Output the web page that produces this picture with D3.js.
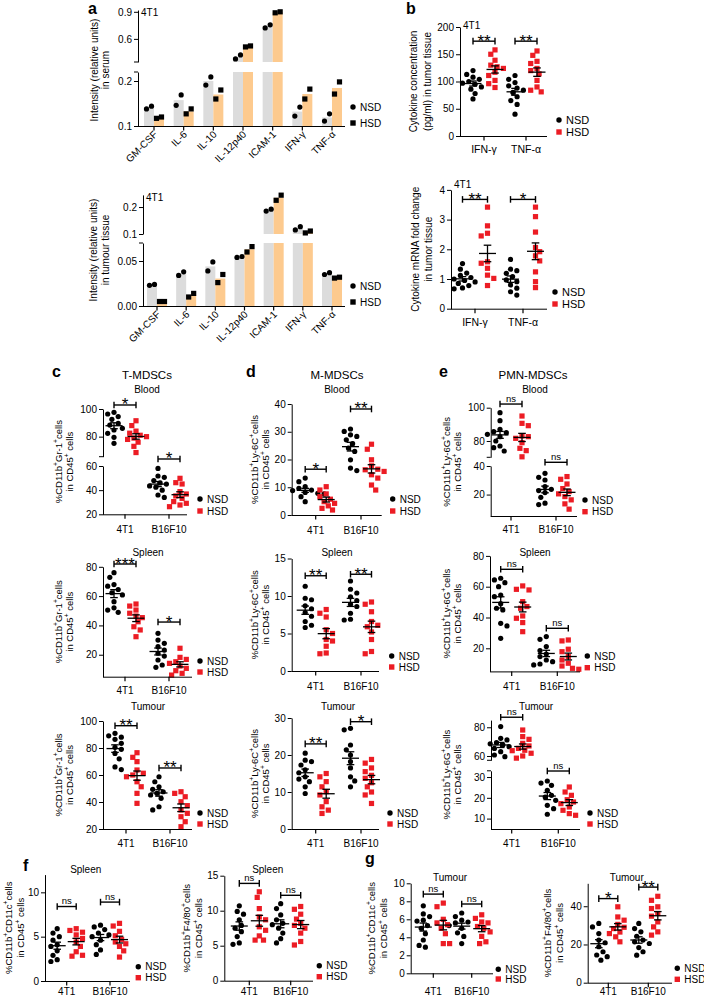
<!DOCTYPE html>
<html><head><meta charset="utf-8">
<script src="https://cdn.jsdelivr.net/npm/d3@7"></script>
<style>body{margin:0;background:#fff}svg{display:block}</style>
</head><body>
<script>
// ---------------- DATA ----------------
const cytokines = ['GM-CSF','IL-6','IL-10','IL-12p40','ICAM-1','IFN-γ','TNF-α'];
const serumNSD  = [[0.138,0.144],[0.146,0.169],[0.191,0.209],[0.378,0.422],[0.722,0.756],[0.122,0.142],[0.111,0.127]];
const serumHSD  = [[0.117,0.120],[0.127,0.138],[0.160,0.180],[0.511,0.522],[0.889,0.900],[0.160,0.182],[0.171,0.198]];
const tissueNSD = [[0.023,0.024],[0.034,0.038],[0.039,0.049],[0.054,0.055],[0.185,0.192],[0.115,0.127],[0.035,0.037]];
const tissueHSD = [[0.005,0.005],[0.010,0.014],[0.026,0.035],[0.060,0.066],[0.225,0.244],[0.104,0.111],[0.031,0.032]];

const bCats = ['IFN-γ','TNF-α'];
const bConcNSD = [[120,113,108,104,100,97,95,90,86,78,68],[111,104,98,92,88,84,80,72,65,58,40]];
const bConcHSD = [[158,150,139,130,127,124,117,111,102,96,89],[156,148,137,133,124,120,114,102,90,84,81]];
const bConcSig = ['**','**'];
const bMrnaNSD = [[1.52,1.33,1.2,1.12,1.05,1.0,0.95,0.9,0.85,0.78,0.7,0.67],[1.66,1.33,1.28,1.19,1.08,0.97,0.91,0.8,0.69,0.57,0.46]];
const bMrnaHSD = [[3.42,2.79,2.54,2.45,1.58,1.53,1.36,1.13,1.02,0.78],[3.42,3.1,2.58,2.06,1.92,1.78,1.61,1.24,0.91,0.71]];
const bMrnaSig = ['**','*'];

const tumours = ['4T1','B16F10'];
const cBloodNSD  = [[97.6,96.4,94.5,92.5,89.6,88.4,86,84.8,82.4,79.5,75.2],[58,51.7,50.6,47.9,46,45,43.5,42.5,40,36,34]];
const cBloodHSD  = [[91.5,88,84,82.5,81,80,79,78,76,73,68.5],[49.8,46.2,45.1,38.8,36.8,35.2,33.2,30.5,29.1,27.7,26.3]];
const cBloodSig  = ['*','*'];
const cSpleenNSD = [[76,72.8,67.9,66.8,64.5,62.3,60.8,56.2,52,50.5,48.9],[34.6,30,27.8,25.5,23.2,21,19.1,16.4,13,11.4]];
const cSpleenHSD = [[54.6,53.2,50.5,48.3,46.4,45.3,42.5,39.1,36.9,32.3],[24.4,18.2,16.8,15.2,14.1,12.3,10.7,9.1,7.3,6.1]];
const cSpleenSig = ['***','*'];
const cTumourNSD = [[90.9,89,88,86.4,83.5,80.5,79,76,72,66,64],[58.7,55,51.3,49.4,47.6,46.4,45.2,42.7,36.5,34.1]];
const cTumourHSD = [[76.5,73.1,69.9,63.7,61.3,60,58.7,55,51.3,46.4,39],[47.6,46.4,43.9,40.2,37.3,34.1,31.6,29.1,25.4,21.7]];
const cTumourSig = ['**','**'];

const dBloodNSD  = [[13.3,12,10.2,9.6,9,8.8,8.1,7.8,7.6,6.6,4.8],[31,30.1,28.9,28.3,27.1,25.7,24.1,22.9,19.9,16.9,16]];
const dBloodHSD  = [[10.2,9,7.6,6.6,5.7,4.8,4.2,3.3,2.4,1.8],[25.5,23.7,19.9,17.7,16.5,16.3,15.7,14.5,13.3,10.8,9]];
const dBloodSig  = ['*','**'];
const dSpleenNSD = [[11.3,9.7,9.5,8.7,8.3,7.8,7.3,6.6,6.1,5.8],[12,10.9,10.4,9.9,9.4,8.9,8.6,7.7,6.9,6.8]];
const dSpleenHSD = [[8.2,7.7,7.2,5.5,5,4.2,4,3.3,2.4,2.3],[9.2,8.9,7.9,6.6,6.1,5.9,5.2,4.2,2.6,2.3]];
const dSpleenSig = ['**','**'];
const dTumourNSD = [[20.5,18.6,18.2,17.3,16,15.2,14.1,13.5,12.8,11.4,9.6],[27.2,26.8,22.7,21.4,20,18.2,16.5,14.1,13,11.4]];
const dTumourHSD = [[15,14.1,12.8,11.4,10.1,9.2,7.4,6,5.1,4.2],[18.8,17.8,16.5,15.5,14.5,13.7,12.5,11.4,10,9.2,6.9]];
const dTumourSig = ['**','*'];

const eBloodNSD  = [[97,92.2,87,85.6,85,84,82.6,80,77,76,74],[34.9,32.1,30.2,25.6,23.7,22.8,21.4,18.1,14,13]];
const eBloodHSD  = [[95,90.6,89.2,83,82.6,81.6,79,75.6,74.2,70.5],[32.6,30.7,27.4,24.2,22.1,20.5,18.6,16.3,13.5,9.8]];
const eBloodSig  = ['ns','ns'];
const eSpleenNSD = [[65.5,64.4,62.6,60,54.6,53.5,49,46,44.9,36.2,34.5,26.5],[27.6,25.8,21.1,18.5,16.3,14.6,12.4,11.3,9.8,9.2]];
const eSpleenHSD = [[60.5,58.3,57.9,50.3,47.1,46,41,39.5,36.7,30.8],[25.4,24.8,19.4,17.8,14.6,12.4,10.3,8.5,7,6.4]];
const eSpleenSig = ['ns','ns'];
const eTumourNSD = [[80.5,72.3,71.2,69.3,68.5,67.7,66.5,65.3,63,60.7,59.5],[28.1,27.1,26,23.6,21.2,20.4,18.8,16.4,14.8,12.1]];
const eTumourHSD = [[78.1,73.5,71.6,68.8,67,65.3,64,63.7,61.9,60,58.5],[25.2,22.8,21.2,19.1,18,17.2,15.6,14,12.4,11.6]];
const eTumourSig = ['ns','ns'];

const fDcNSD  = [[5.9,5.4,5,4.6,4.1,3.9,3.4,2.9,2.4,2.2],[6.3,6.1,5.8,5.4,5.2,5,4.6,4.1,3.5,3]];
const fDcHSD  = [[5.9,5.7,5.5,5.2,4.8,4.4,3.9,3.3,2.9,2.8],[6.5,6.2,5.6,5.1,4.7,4.4,4.2,3.9,3.4,2.7]];
const fDcSig  = ['ns','ns'];
const fMacNSD = [[10.7,9.9,9.5,8.7,7.9,7.5,7,6.3,5.4,5.2],[11,10.3,9.4,8.7,8.2,8,7.5,6.8,6,5.4]];
const fMacHSD = [[12.7,11.9,10.3,9.1,8.7,7.7,7.2,6.4,5.8,5.8],[10.6,10.2,9.5,8.8,8.2,7.9,7.5,6.8,5.6,5.1]];
const fMacSig = ['ns','ns'];
const gDcNSD  = [[7.5,6.6,6.3,5.9,5.8,5.3,5,4.4,3.7,3.1,2.9],[6.7,6.3,5.9,5.7,5.6,5.3,5,4.5,4.1,3.3]];
const gDcHSD  = [[7.8,7.4,6,5.6,5.4,5,4.4,3.3,3.3],[6.5,6.1,5.7,5.6,5.2,5,4.6,4.1,3.5,3.3]];
const gDcSig  = ['ns','ns'];
const gMacNSD = [[31,29.2,25.7,22.3,20.9,18.8,16.2,14.5,13.6,11.8],[31,28.3,26.6,24.3,22.3,21.4,20.5,18.4,16.2,14.4]];
const gMacHSD = [[39.7,34.4,32.7,30.5,29,28.3,26.5,25.7,24,21.4],[45.2,43.1,39.7,38.8,36.2,34.8,31.8,29.2,26.6,24.9]];
const gMacSig = ['*','**'];

const labGr   = [['%CD11b','+','Gr-1','+','cells'],['in CD45','+',' cells']];
const labLy6C = [['%CD11b','+','Ly-6C','+','cells'],['in CD45','+',' cells']];
const labLy6G = [['%CD11b','+','Ly-6G','+','cells'],['in CD45','+',' cells']];
const labDC   = [['%CD11b','+','CD11c','+','cells'],['in CD45','+',' cells']];
const labMac  = [['%CD11b','+','F4/80','+','cells'],['in CD45','+',' cells']];

// ---------------- DRAWING ----------------
const F = "'Liberation Sans', Arial, Helvetica, sans-serif";
const RED = '#ec1c24';
const svg = d3.select('body').append('svg').attr('width',704).attr('height',1000);
svg.append('rect').attr('width',704).attr('height',1000).attr('fill','#fff');

function txt(g, x, y, s, o={}) {
  return g.append('text').attr('x',x).attr('y',y).text(s)
    .attr('font-family',F).attr('font-size',o.size||10)
    .attr('text-anchor',o.anchor||'start').attr('font-weight',o.weight||'normal').attr('fill','#000');
}
function rich(g, parts, x, y, size) {
  const t = g.append('text').attr('font-family',F).attr('font-size',size).attr('text-anchor','middle')
    .attr('fill','#000').attr('transform',`translate(${x},${y}) rotate(-90)`);
  parts.forEach((p,i)=>{
    const ts = t.append('tspan').text(p);
    if (i%2===1) ts.attr('font-size',size*0.7).attr('dy',-size*0.38);
    else if (i>0) ts.attr('dy',size*0.38);
  });
}
function mkSegs(segs){ return segs.map(s=>({...s, sc:d3.scaleLinear().domain(s.dom).range(s.rng)})); }
function segY(segs, v){
  let s = segs.find(s=>v>=s.dom[0]-1e-9 && v<=s.dom[1]+1e-9);
  if(!s) s = segs.reduce((a,b)=>Math.min(Math.abs(v-a.dom[0]),Math.abs(v-a.dom[1]))<=Math.min(Math.abs(v-b.dom[0]),Math.abs(v-b.dom[1]))?a:b);
  return s.sc(v);
}
function yAxis(g, x, segs) {
  segs.forEach((s,i)=>{
    const ax = d3.axisLeft(s.sc).tickValues(s.ticks).tickSize(4).tickSizeOuter(0).tickPadding(2)
      .tickFormat(s.fmt ? d3.format(s.fmt) : (d=>String(d)));
    const a = g.append('g').attr('transform',`translate(${x},0)`).call(ax);
    a.attr('font-family',F).attr('font-size',10);
    a.selectAll('text').attr('fill','#000');
    a.selectAll('line,path').attr('stroke','#000').attr('stroke-width',1);
    if (segs.length>1) {
      if (i<segs.length-1 && !s.ticks.includes(s.dom[1]))
        g.append('line').attr('x1',x-4).attr('x2',x).attr('y1',s.rng[1]).attr('y2',s.rng[1]).attr('stroke','#000');
      if (i>0 && !s.ticks.includes(s.dom[0]))
        g.append('line').attr('x1',x-4).attr('x2',x).attr('y1',s.rng[0]).attr('y2',s.rng[0]).attr('stroke','#000');
    }
  });
}
function xAxisLine(g, x0, x1, y, ticks) {
  g.append('line').attr('x1',x0).attr('x2',x1).attr('y1',y+0.5).attr('y2',y+0.5).attr('stroke','#000');
  ticks.forEach(t=>g.append('line').attr('x1',t).attr('x2',t).attr('y1',y).attr('y2',y+4.5).attr('stroke','#000').attr('stroke-width',1.2));
}
function marker(g, shape, x, y, col, r) {
  if (shape==='c') g.append('circle').attr('cx',x).attr('cy',y).attr('r',r).attr('fill',col);
  else g.append('rect').attr('x',x-r).attr('y',y-r).attr('width',2*r).attr('height',2*r).attr('fill',col);
}
function legend(g, x, y1, y2, hsdCol, size) {
  marker(g,'c',x,y1,'#000',2.7); txt(g,x+7,y1+3.6,'NSD',{size});
  marker(g,'s',x,y2,hsdCol,2.7); txt(g,x+7,y2+3.6,'HSD',{size});
}
function swarm(vals, yf, r) {
  const pts = vals.map(v=>({v, y:yf(v)})).sort((a,b)=>a.y-b.y);
  const placed=[]; const minD = 2*r*1.12; const step=2.1;
  pts.forEach((p,j)=>{
    let best=0;
    for (let k=0;k<24;k++){
      const sgn = (j%2===0) ? 1 : -1;
      const dx = k===0?0:((k%2)?sgn:-sgn)*Math.ceil(k/2)*step;
      if (placed.every(q=>(q.dx-dx)**2+(q.y-p.y)**2>=minD*minD)){best=dx;break;}
    }
    p.dx=best; placed.push(p);
  });
  return pts;
}

// ---- bar panel (a) ----
function barPanel(c) {
  const g = svg.append('g');
  const segs = mkSegs(c.segs);
  const xs = d3.scalePoint().domain(cytokines).range(c.tickRange);
  cytokines.forEach((cat,i)=>{
    const cx = xs(cat);
    [[c.nsd[i],'#dcdcdc',-10],[c.hsd[i],'#fdca8e',0]].forEach(([vals,col,dx])=>{
      const m = d3.mean(vals);
      segs.forEach(s=>{
        const lo=s.dom[0], hi=Math.min(m,s.dom[1]);
        if (hi>lo) g.append('rect').attr('x',cx+dx).attr('width',10).attr('y',s.sc(hi)).attr('height',s.sc(lo)-s.sc(hi)).attr('fill',col);
      });
    });
    c.nsd[i].forEach((v,k)=>marker(g,'c',cx-7.5+k*5,segY(segs,v),'#000',2.6));
    c.hsd[i].forEach((v,k)=>marker(g,'s',cx+2.5+k*5,segY(segs,v),'#000',2.6));
  });
  yAxis(g, c.axisX, segs);
  const yb = segs[0].rng[0];
  xAxisLine(g, c.axisX, c.x1, yb, cytokines.map(d=>xs(d)));
  cytokines.forEach(cat=>{
    g.append('text').text(cat).attr('font-family',F).attr('font-size',10).attr('text-anchor','end')
      .attr('transform',`translate(${xs(cat)+4},${yb+9}) rotate(-45)`);
  });
  legend(g, c.legend[0], c.legend[1], c.legend[2], '#000', 10);
  rich(g,[c.ylab[0]],c.ylabX[0],c.ylabY,10);
  rich(g,[c.ylab[1]],c.ylabX[1],c.ylabY,10);
  txt(g, c.axisX+3, c.t4[1], '4T1', {size:10});
}

// ---- scatter panel ----
function scatter(c) {
  const g = svg.append('g');
  const segs = mkSegs(c.segs);
  const yf = v=>segY(segs,v);
  const xs = d3.scalePoint().domain(c.cats).range(c.tickRange);
  const yb = segs[0].rng[0];
  const r = 2.6;
  [[c.nsd,'c','#000',-c.off],[c.hsd,'s',RED,c.off]].forEach(([arr,shape,col,dx])=>{
    arr.forEach((vals,ci)=>{
      const cx = xs(c.cats[ci])+dx;
      swarm(vals,yf,r).forEach(p=>marker(g,shape,cx+p.dx,p.y,col,r));
    });
  });
  [[c.nsd,-c.off],[c.hsd,c.off]].forEach(([arr,dx])=>{
    arr.forEach((vals,ci)=>{
      const cx = xs(c.cats[ci])+dx;
      const m = d3.mean(vals), se = d3.deviation(vals)/Math.sqrt(vals.length);
      const ym=yf(m), y1=yf(m+se), y0=yf(m-se);
      const ln=(a,b,c2,d)=>g.append('line').attr('x1',a).attr('y1',b).attr('x2',c2).attr('y2',d).attr('stroke','#000').attr('stroke-width',1.3);
      ln(cx-8.5,ym,cx+8.5,ym); ln(cx,y0,cx,y1); ln(cx-3.8,y0,cx+3.8,y0); ln(cx-3.8,y1,cx+3.8,y1);
    });
  });
  yAxis(g, c.axisX, segs);
  xAxisLine(g, c.axisX, c.x1, yb, c.cats.map(d=>xs(d)));
  c.cats.forEach(cat=>txt(g, xs(cat), c.xlabY, cat, {size:c.xsize||10, anchor:'middle'}));
  c.sig.forEach((s,ci)=>{
    const [si,lev] = c.br[ci];
    const by = segs[si].sc(lev);
    const xa = xs(c.cats[ci])-c.off, xb = xs(c.cats[ci])+c.off;
    g.append('line').attr('x1',xa).attr('x2',xb).attr('y1',by).attr('y2',by).attr('stroke','#000').attr('stroke-width',1.4);
    [xa,xb].forEach(xx=>g.append('line').attr('x1',xx).attr('x2',xx).attr('y1',by-3.3).attr('y2',by+3.3).attr('stroke','#000').attr('stroke-width',1.4));
    if (s==='ns') txt(g,(xa+xb)/2,by-2.5,'ns',{size:9.5,anchor:'middle'});
    else txt(g,(xa+xb)/2,by+5.5,s,{size:17,anchor:'middle'});
  });
  legend(g, c.legend[0], c.legend[1], c.legend[2], RED, c.lsize||10);
  const cy = (segs[0].rng[0]+segs[segs.length-1].rng[1])/2;
  rich(g,c.ylab[0],c.ylabX[0],cy,c.ylsize||9.5);
  rich(g,c.ylab[1],c.ylabX[1],cy,c.ylsize||9.5);
  if (c.title) txt(g,c.title[1],c.title[2],c.title[0],{size:10,anchor:'middle'});
  if (c.t4) txt(g,c.axisX+3,c.t4,'4T1',{size:10});
}

// ---------- panel a ----------
barPanel({nsd:serumNSD, hsd:serumHSD, axisX:138, x1:345, tickRange:[154,332],
  segs:[{dom:[0.1,0.22],rng:[126,72],ticks:[0.1,0.2],fmt:'.1f'},{dom:[0.344,0.92],rng:[62,10],ticks:[0.6,0.9],fmt:'.1f'}],
  legend:[353,107,123], ylab:['Intensity (relative units)','in serum'], ylabX:[97.5,108.5], ylabY:70, t4:[0,16]});
barPanel({nsd:tissueNSD, hsd:tissueHSD, axisX:143, x1:345, tickRange:[157,332],
  segs:[{dom:[0,0.07],rng:[306,243],ticks:[0,0.05],fmt:'.2f'},{dom:[0.1,0.245],rng:[234,194.9],ticks:[0.1,0.2],fmt:'.1f'}],
  legend:[353,286,302], ylab:['Intensity (relative units)','in tumour tissue'], ylabX:[97,108.5], ylabY:250, t4:[0,201]});

// ---------- panel b ----------
scatter({cats:bCats, nsd:bConcNSD, hsd:bConcHSD, sig:bConcSig, axisX:460, x1:547, tickRange:[484,526], off:11,
  segs:[{dom:[0,200],rng:[136,27],ticks:[0,50,100,150,200]}], br:[[0,174],[0,174]],
  legend:[559,120,132], lsize:11, xlabY:153, xsize:10.5,
  ylab:[['Cytokine concentration'],['(pg/ml) in tumor tissue']], ylabX:[417,431], ylsize:10, t4:29});
scatter({cats:bCats, nsd:bMrnaNSD, hsd:bMrnaHSD, sig:bMrnaSig, axisX:451, x1:547, tickRange:[475,523], off:12.5,
  segs:[{dom:[0,4],rng:[308.7,189.9],ticks:[0,1,2,3,4]}], br:[[0,3.68],[0,3.68]],
  legend:[555,292,304], lsize:11, xlabY:326, xsize:10.5,
  ylab:[['Cytokine mRNA fold change'],['in tumor tissue']], ylabX:[419,432], ylsize:10, t4:188});

// ---------- panels c, d, e ----------
scatter({cats:tumours, nsd:cBloodNSD, hsd:cBloodHSD, sig:cBloodSig, axisX:103, x1:187, tickRange:[125,169], off:11,
  segs:[{dom:[20,60],rng:[514.3,466],ticks:[20,40,60]},{dom:[65.5,100],rng:[456.7,409],ticks:[80,100]}],
  br:[[1,102.9],[0,65.8]], legend:[200,499,511], xlabY:533, ylab:labGr, ylabX:[62,73], title:['Blood',147,393]});
scatter({cats:tumours, nsd:cSpleenNSD, hsd:cSpleenHSD, sig:cSpleenSig, axisX:103, x1:192, tickRange:[125,169], off:11,
  segs:[{dom:[5,80],rng:[676.7,566.8],ticks:[20,40,60,80]}],
  br:[[0,81.9],[0,42.3]], legend:[200,661,672], xlabY:694, ylab:labGr, ylabX:[62,73], title:['Spleen',148,556]});
scatter({cats:tumours, nsd:cTumourNSD, hsd:cTumourHSD, sig:cTumourSig, axisX:103, x1:192, tickRange:[126,170], off:11,
  segs:[{dom:[20,100],rng:[829,721],ticks:[20,40,60,80,100]}],
  br:[[0,96.5],[0,65.2]], legend:[200,813,824], xlabY:847, ylab:labGr, ylabX:[62,73], title:['Tumour',148,710]});

scatter({cats:tumours, nsd:dBloodNSD, hsd:dBloodHSD, sig:dBloodSig, axisX:291.7, x1:381.7, tickRange:[315.7,361], off:10.5,
  segs:[{dom:[0,40],rng:[515,404],ticks:[0,10,20,30,40]}],
  br:[[0,16.5],[0,38.2]], legend:[392.7,499,511], xlabY:534, ylab:labLy6C, ylabX:[258,268.5], title:['Blood',337,393]});
scatter({cats:tumours, nsd:dSpleenNSD, hsd:dSpleenHSD, sig:dSpleenSig, axisX:291.7, x1:379, tickRange:[315.7,361], off:10.5,
  segs:[{dom:[0,15],rng:[671,558.5],ticks:[0,5,10,15]}],
  br:[[0,12.7],[0,12.9]], legend:[391.7,656,667], xlabY:690, ylab:labLy6C, ylabX:[258,268.5], title:['Spleen',337,556]});
scatter({cats:tumours, nsd:dTumourNSD, hsd:dTumourHSD, sig:dTumourSig, axisX:291.7, x1:379, tickRange:[315.7,361], off:10.5,
  segs:[{dom:[0,30],rng:[829,718],ticks:[0,10,20,30]}],
  br:[[0,23],[0,29]], legend:[390,813,824], xlabY:847, ylab:labLy6C, ylabX:[258,268.5], title:['Tumour',338,710]});

scatter({cats:tumours, nsd:eBloodNSD, hsd:eBloodHSD, sig:eBloodSig, axisX:490.7, x1:577, tickRange:[511,556], off:11,
  segs:[{dom:[5,40],rng:[516,466],ticks:[20,40]},{dom:[70.2,100],rng:[457.3,407.7],ticks:[80,100]}],
  br:[[1,102.2],[0,42.6]], legend:[585,500,511.7], xlabY:533, ylab:labLy6G, ylabX:[449.5,461], title:['Blood',535,393]});
scatter({cats:tumours, nsd:eSpleenNSD, hsd:eSpleenHSD, sig:eSpleenSig, axisX:490, x1:580, tickRange:[511.7,557.3], off:11,
  segs:[{dom:[5,80],rng:[671.4,555.9],ticks:[20,40,60,80]}],
  br:[[0,71.3],[0,33]], legend:[587.3,656,667.7], xlabY:690, ylab:labLy6G, ylabX:[449.5,461], title:['Spleen',535,556]});
scatter({cats:tumours, nsd:eTumourNSD, hsd:eTumourHSD, sig:eTumourSig, axisX:491, x1:580, tickRange:[511.7,558.3], off:11,
  segs:[{dom:[5,33],rng:[829,770.8],ticks:[10,20,30]},{dom:[57,85],rng:[760.3,720.1],ticks:[60,80]}],
  br:[[1,87],[0,32.9]], legend:[590,813,824], xlabY:847, ylab:labLy6G, ylabX:[449.5,461], title:['Tumour',536,710]});

// ---------- panels f, g ----------
scatter({cats:tumours, nsd:fDcNSD, hsd:fDcHSD, sig:fDcSig, axisX:45, x1:130, tickRange:[66.7,110], off:9.5,
  segs:[{dom:[0,12],rng:[981,874.6],ticks:[0,5,10]}],
  br:[[0,8.4],[0,8.9]], legend:[138.3,966.7,977.7], xlabY:995, ylab:labDC, ylabX:[12,24], title:['Spleen',85.7,873]});
scatter({cats:tumours, nsd:fMacNSD, hsd:fMacHSD, sig:fMacSig, axisX:224.3, x1:313, tickRange:[249.3,290.7], off:10,
  segs:[{dom:[0,15],rng:[980.7,875.7],ticks:[0,5,10,15]}],
  br:[[0,13.9],[0,12.2]], legend:[319.3,965.7,976.7], xlabY:995, ylab:labMac, ylabX:[190,202], title:['Spleen',267.7,873]});
scatter({cats:tumours, nsd:gDcNSD, hsd:gDcHSD, sig:gDcSig, axisX:410.7, x1:493, tickRange:[433.3,471.7], off:10,
  segs:[{dom:[0,10],rng:[973.3,883.3],ticks:[0,2,4,6,8,10]}],
  br:[[0,8.8],[0,7.7]], legend:[498.3,969.3,979], xlabY:995, ylab:labDC, ylabX:[374.5,386.5], title:['Tumour',450,880.7]});
scatter({cats:tumours, nsd:gMacNSD, hsd:gMacHSD, sig:gMacSig, axisX:587.7, x1:672, tickRange:[608.3,648.3], off:9.5,
  segs:[{dom:[0,52],rng:[982.7,883.3],ticks:[0,20,40]}],
  br:[[0,44],[0,50]], legend:[677.3,968.3,979.3], xlabY:995, ylab:labMac, ylabX:[551,562.5], title:['Tumour',626.7,880.7]});

// ---------- panel letters & headings ----------
const L = svg.append('g');
[['a',88,14],['b',406,14],['c',52,377],['d',246,377],['e',439,377],['f',23,871],['g',365,864]]
  .forEach(([s,x,y])=>txt(L,x,y,s,{size:16,weight:'bold'}));
[['T-MDSCs',147,379],['M-MDSCs',337,379],['PMN-MDSCs',533,379]]
  .forEach(([s,x,y])=>txt(L,x,y,s,{size:11.5,anchor:'middle'}));
</script>
</body></html>
